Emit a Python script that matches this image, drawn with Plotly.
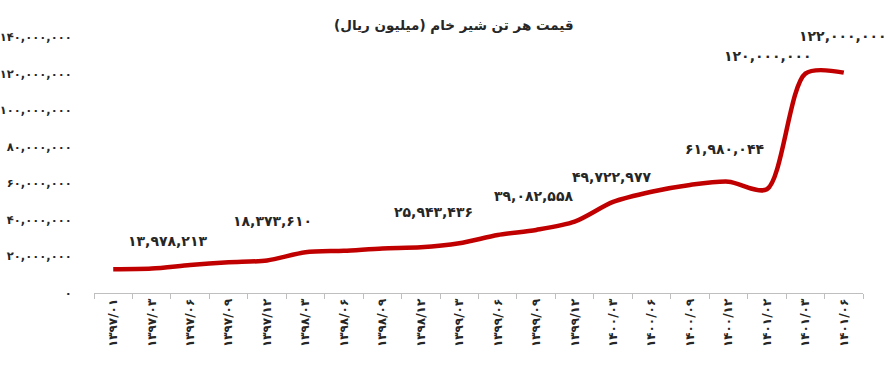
import plotly.graph_objects as go

# ---- data ----
categories = ["۱۳۹۷/۰۱", "۱۳۹۷/۰۳", "۱۳۹۷/۰۶", "۱۳۹۷/۰۹", "۱۳۹۷/۱۲",
              "۱۳۹۸/۰۳", "۱۳۹۸/۰۶", "۱۳۹۸/۰۹", "۱۳۹۸/۱۲",
              "۱۳۹۹/۰۳", "۱۳۹۹/۰۶", "۱۳۹۹/۰۹", "۱۳۹۹/۱۲",
              "۱۴۰۰/۰۳", "۱۴۰۰/۰۶", "۱۴۰۰/۰۹", "۱۴۰۰/۱۲",
              "۱۴۰۱/۰۲", "۱۴۰۱/۰۳", "۱۴۰۱/۰۶"]
prices = [13.0e6, 13.4e6, 15.3e6, 16.8e6, 17.8e6,
          22.3e6, 23.1e6, 24.4e6, 25.0e6,
          27.2e6, 31.7e6, 34.5e6, 39.0e6,
          49.8e6, 55.4e6, 59.1e6, 60.9e6,
          56.7e6, 120.0e6, 120.5e6]

label_cats = ["۱۳۹۷/۰۳", "۱۳۹۷/۱۲", "۱۳۹۸/۱۲", "۱۳۹۹/۱۲",
              "۱۴۰۰/۰۳", "۱۴۰۰/۱۲", "۱۴۰۱/۰۳", "۱۴۰۱/۰۶"]
label_vals = [13978213, 18373610, 25943436, 39082558,
              49722977, 61980044, 120000000, 122000000]

y_tickvals = [0, 20e6, 40e6, 60e6, 80e6, 100e6, 120e6, 140e6]
y_ticktext = ["۰", "۲۰,۰۰۰,۰۰۰", "۴۰,۰۰۰,۰۰۰", "۶۰,۰۰۰,۰۰۰",
              "۸۰,۰۰۰,۰۰۰", "۱۰۰,۰۰۰,۰۰۰", "۱۲۰,۰۰۰,۰۰۰", "۱۴۰,۰۰۰,۰۰۰"]

title_text = "قیمت هر تن شیر خام (میلیون ریال)"

# label pixel offsets (layout only)
label_offsets = [(16, 26), (5, 38), (13, 34), (-41, 26),
                 (-2, 25), (-4, 31), (-37, 18), (-1, 34)]

PERSIAN = str.maketrans("0123456789", "۰۱۲۳۴۵۶۷۸۹")


def fa_num(v):
    return f"{int(v):,}".translate(PERSIAN)


FONT = "DejaVu Sans"
TXT = "#262626"

fig = go.Figure()
fig.add_trace(go.Scatter(
    x=categories, y=prices, mode="lines",
    line=dict(color="#C00000", width=4.5, shape="spline", smoothing=0.8),
    hoverinfo="skip", showlegend=False,
))

for cat, val, (dx, dy) in zip(label_cats, label_vals, label_offsets):
    fig.add_annotation(
        x=cat, y=val, text="<b>" + fa_num(val) + "</b>",
        showarrow=False, xshift=dx, yshift=dy,
        xanchor="center", yanchor="middle",
        font=dict(family=FONT, size=14, color=TXT),
    )

fig.update_layout(
    width=890, height=373,
    margin=dict(l=94, r=27, t=37, b=80),
    paper_bgcolor="white", plot_bgcolor="white",
    title=dict(
        text="<b>\u200F" + title_text + "\u200F</b>",
        x=0.51, xref="container", xanchor="center",
        y=1 - 25 / 373, yref="container", yanchor="middle",
        font=dict(family=FONT, size=13.5, color=TXT),
    ),
    xaxis=dict(
        type="category", categoryorder="array", categoryarray=categories,
        showgrid=False, showline=True, linecolor="#BFBFBF", linewidth=1,
        ticks="outside", tickson="boundaries", ticklen=5, tickcolor="#BFBFBF",
        tickangle=-90, tickfont=dict(family=FONT, size=12, color=TXT),
        range=[-0.5, len(categories) - 0.5], automargin=False,
        tickvals=categories, ticktext=[f"<b>{c}</b>" for c in categories],
    ),
    yaxis=dict(
        range=[0, 140e6], tickvals=y_tickvals,
        ticktext=[f"<b>{t}</b>" for t in y_ticktext],
        showgrid=False, showline=False, zeroline=False, automargin=False,
        ticks="outside", ticklen=19, tickcolor="rgba(0,0,0,0)",
        tickfont=dict(family=FONT, size=11.5, color=TXT),
    ),
)

fig.write_html("out.html")
